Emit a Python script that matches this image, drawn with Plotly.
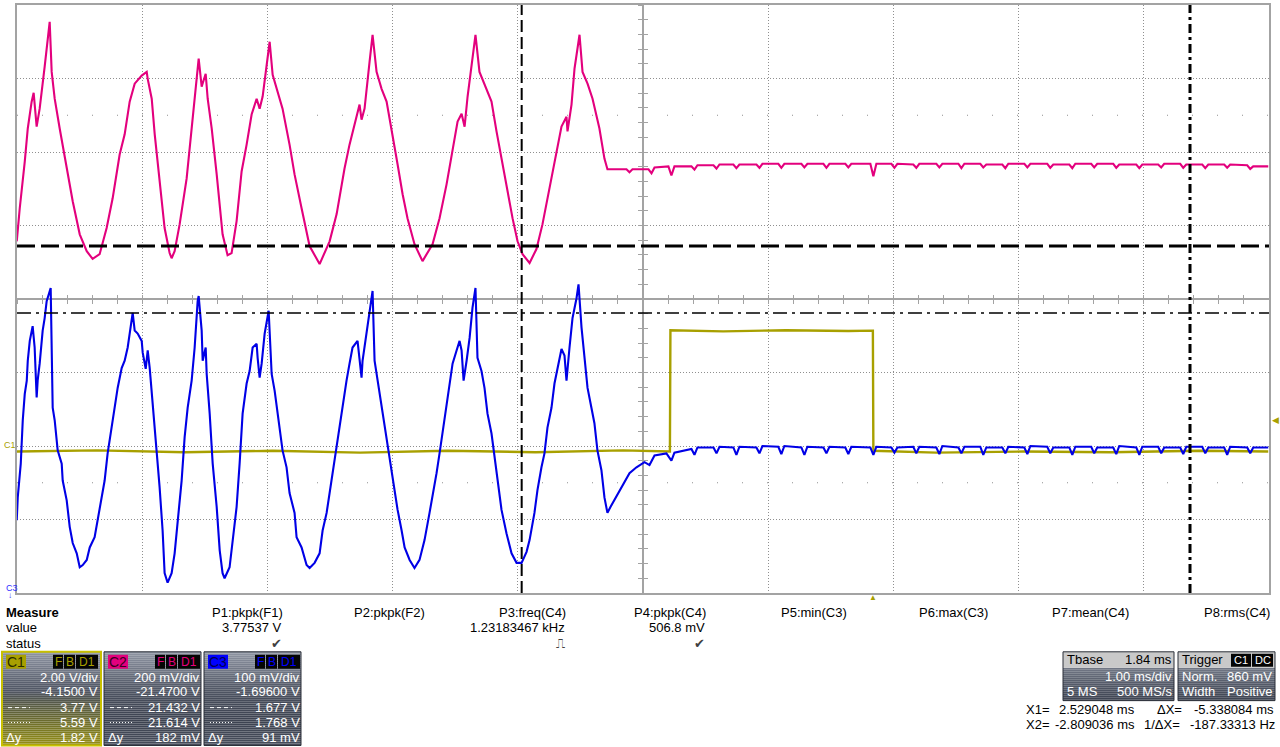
import plotly.graph_objects as go

FIG_WIDTH, FIG_HEIGHT = 1280, 747
# graticule edges on the page, in pixels
SCR_LEFT, SCR_RIGHT, SCR_TOP, SCR_BOTTOM = 17, 1269, 3, 593

FONT = "Liberation Sans, Arial, sans-serif"
GRID = "#8f8f8f"
FRAME = "#a3a3a3"

C1_COLOR = "#a8a000"
C2_COLOR = "#e3007d"
C3_COLOR = "#0000e6"

# scope settings, as printed in the info boxes
MS_PER_DIV = 1.00
TBASE_MS = 1.84
C1_VDIV, C1_OFFSET = 2.00, -4.15
C2_VDIV, C2_OFFSET = 0.200, -21.47
C3_VDIV, C3_OFFSET = 0.100, -1.696
TRIG_LEVEL = 0.86
X1_MS, X2_MS = 2.529048, -2.809036
Y1_C1, Y2_C1 = 3.77, 5.59

# C1 (yellow): gate signal, V vs ms
c1_t = [-6.842, -6.2, -5.5, -4.8, -4.1, -3.4, -2.7, -2.0, -1.625, -1.621,
        -1.2, -0.7, -0.2, -0.004, 0.0, 0.5, 1.2, 1.9, 2.6, 3.154]
c1_v = [0.00, 0.03, -0.02, 0.02, -0.03, 0.02, -0.02, 0.03, 0.00, 3.30,
        3.27, 3.30, 3.28, 3.29, 0.02, -0.03, 0.00, -0.02, 0.02, 0.00]

# C2 (magenta), V vs ms
c2_t = [
    -6.842, -6.818, -6.778, -6.754, -6.723, -6.707, -6.683, -6.659, -6.619, -6.579,
    -6.563, -6.539, -6.499, -6.443, -6.395, -6.339, -6.283, -6.236, -6.180, -6.124,
    -6.076, -6.020, -5.980, -5.940, -5.900, -5.844, -5.804, -5.796, -5.764, -5.740,
    -5.701, -5.661, -5.621, -5.605, -5.581, -5.541, -5.485, -5.445, -5.421, -5.389,
    -5.365, -5.333, -5.317, -5.285, -5.245, -5.198, -5.158, -5.126, -5.086, -5.046,
    -5.006, -4.966, -4.926, -4.902, -4.878, -4.846, -4.822, -4.798, -4.758, -4.719,
    -4.663, -4.623, -4.567, -4.503, -4.423, -4.343, -4.287, -4.224, -4.184, -4.144,
    -4.104, -4.088, -4.064, -4.024, -4.000, -3.968, -3.928, -3.888, -3.840, -3.800,
    -3.760, -3.721, -3.665, -3.601, -3.521, -3.465, -3.409, -3.361, -3.321, -3.289,
    -3.265, -3.241, -3.210, -3.178, -3.146, -3.090, -3.050, -3.010, -2.970, -2.930,
    -2.882, -2.842, -2.802, -2.746, -2.691, -2.643, -2.587, -2.531, -2.491, -2.451,
    -2.443, -2.411, -2.387, -2.347, -2.323, -2.283, -2.243, -2.188, -2.148, -2.124,
    -1.972, -1.948, -1.924, -1.796, -1.772, -1.748, -1.637, -1.613, -1.589,
    -1.453, -1.429, -1.405, -1.277, -1.253, -1.229, -1.118, -1.094, -1.070,
    -0.934, -0.910, -0.886, -0.759, -0.735, -0.711, -0.575, -0.551, -0.527,
    -0.399, -0.375, -0.351, -0.224, -0.200, -0.176, -0.024, 0.000, 0.024,
    0.144, 0.168, 0.192, 0.319, 0.343, 0.367, 0.503, 0.527, 0.551,
    0.679, 0.703, 0.727, 0.854, 0.878, 0.902, 1.030, 1.054, 1.078,
    1.206, 1.230, 1.254, 1.389, 1.413, 1.437, 1.565, 1.589, 1.613,
    1.740, 1.764, 1.788, 1.916, 1.940, 1.964, 2.100, 2.124, 2.148,
    2.275, 2.299, 2.323, 2.451, 2.475, 2.499, 2.627, 2.651, 2.675,
    2.802, 2.826, 2.850, 2.986, 3.010, 3.034, 3.154,
]
c2_v = [
    21.627, 21.717, 21.844, 21.934, 22.007, 22.031, 21.939, 21.988, 22.102, 22.224,
    22.088, 22.015, 21.934, 21.825, 21.736, 21.646, 21.600, 21.579, 21.592, 21.663,
    21.744, 21.863, 21.918, 22.007, 22.056, 22.078, 22.088, 22.069, 22.015, 21.918,
    21.790, 21.663, 21.595, 21.581, 21.600, 21.673, 21.798, 21.934, 22.034, 22.124,
    22.048, 22.083, 22.015, 21.934, 21.809, 21.646, 21.589, 21.595, 21.682, 21.817,
    21.890, 21.972, 22.015, 21.988, 22.021, 22.115, 22.170, 22.080, 22.034, 21.988,
    21.890, 21.809, 21.717, 21.614, 21.565, 21.627, 21.701, 21.825, 21.890, 21.945,
    21.999, 21.958, 21.988, 22.115, 22.189, 22.088, 22.042, 22.007, 21.918, 21.836,
    21.755, 21.690, 21.619, 21.573, 21.619, 21.690, 21.782, 21.880, 21.953, 21.974,
    21.939, 22.021, 22.097, 22.189, 22.088, 22.040, 22.007, 21.926, 21.852, 21.771,
    21.690, 21.627, 21.592, 21.568, 21.606, 21.673, 21.771, 21.871, 21.939, 21.966,
    21.926, 21.999, 22.097, 22.189, 22.088, 22.056, 22.015, 21.934, 21.852, 21.823,
    21.823, 21.815, 21.823, 21.823, 21.812, 21.828, 21.831, 21.806, 21.831,
    21.831, 21.822, 21.834, 21.834, 21.825, 21.836, 21.836, 21.826, 21.836,
    21.836, 21.827, 21.838, 21.838, 21.827, 21.838, 21.838, 21.828, 21.838,
    21.838, 21.827, 21.838, 21.838, 21.828, 21.838, 21.838, 21.804, 21.838,
    21.838, 21.827, 21.838, 21.836, 21.827, 21.838, 21.838, 21.828, 21.838,
    21.838, 21.826, 21.838, 21.838, 21.828, 21.836, 21.836, 21.826, 21.838,
    21.838, 21.828, 21.838, 21.838, 21.827, 21.836, 21.836, 21.826, 21.838,
    21.838, 21.828, 21.838, 21.838, 21.827, 21.836, 21.836, 21.826, 21.836,
    21.836, 21.828, 21.838, 21.838, 21.827, 21.836, 21.836, 21.826, 21.836,
    21.836, 21.827, 21.836, 21.834, 21.824, 21.831, 21.831,
]

# C3 (blue), V vs ms
c3_t = [
    -6.842, -6.834, -6.810, -6.802, -6.794, -6.778, -6.762, -6.754, -6.738, -6.715,
    -6.699, -6.683, -6.675, -6.659, -6.635, -6.619, -6.603, -6.571, -6.563, -6.555,
    -6.539, -6.515, -6.483, -6.475, -6.443, -6.419, -6.395, -6.363, -6.339, -6.315,
    -6.283, -6.259, -6.220, -6.196, -6.164, -6.140, -6.116, -6.084, -6.060, -6.036,
    -6.004, -5.980, -5.956, -5.916, -5.900, -5.876, -5.844, -5.836, -5.812, -5.796,
    -5.780, -5.764, -5.748, -5.724, -5.701, -5.677, -5.661, -5.637, -5.605, -5.581,
    -5.557, -5.525, -5.501, -5.477, -5.445, -5.421, -5.397, -5.389, -5.365, -5.357,
    -5.333, -5.325, -5.301, -5.277, -5.245, -5.221, -5.198, -5.182, -5.142, -5.118,
    -5.086, -5.062, -5.038, -5.006, -4.982, -4.958, -4.926, -4.918, -4.902, -4.886,
    -4.862, -4.830, -4.806, -4.782, -4.758, -4.719, -4.687, -4.663, -4.623, -4.607,
    -4.567, -4.527, -4.503, -4.463, -4.423, -4.399, -4.367, -4.343, -4.319, -4.287,
    -4.263, -4.239, -4.208, -4.184, -4.160, -4.120, -4.104, -4.088, -4.080, -4.048,
    -4.024, -4.000, -3.984, -3.960, -3.928, -3.904, -3.880, -3.848, -3.824, -3.800,
    -3.768, -3.744, -3.704, -3.665, -3.625, -3.585, -3.545, -3.521, -3.489, -3.465,
    -3.441, -3.409, -3.385, -3.361, -3.329, -3.305, -3.289, -3.273, -3.249, -3.225,
    -3.202, -3.178, -3.162, -3.130, -3.106, -3.082, -3.050, -3.026, -3.002, -2.970,
    -2.930, -2.890, -2.850, -2.810, -2.770, -2.746, -2.707, -2.683, -2.651, -2.627,
    -2.603, -2.571, -2.547, -2.523, -2.491, -2.467, -2.451, -2.427, -2.403, -2.371,
    -2.355, -2.331, -2.307, -2.283, -2.252, -2.228, -2.204, -2.172, -2.148, -2.124,
    -2.100, -2.060, -2.020, -1.948, -1.892, -1.828, -1.788, -1.748, -1.653, -1.613,
    -1.589,
    -1.453, -1.429, -1.405, -1.277, -1.253, -1.229, -1.118, -1.094, -1.070,
    -0.934, -0.910, -0.886, -0.759, -0.735, -0.711, -0.575, -0.551, -0.527,
    -0.399, -0.375, -0.351, -0.224, -0.200, -0.176, -0.024, 0.000, 0.024,
    0.144, 0.168, 0.192, 0.319, 0.343, 0.367, 0.503, 0.527, 0.551,
    0.679, 0.703, 0.727, 0.854, 0.878, 0.902, 1.030, 1.054, 1.078,
    1.206, 1.230, 1.254, 1.389, 1.413, 1.437, 1.565, 1.589, 1.613,
    1.740, 1.764, 1.788, 1.916, 1.940, 1.964, 2.100, 2.124, 2.148,
    2.275, 2.299, 2.323, 2.451, 2.475, 2.499, 2.627, 2.651, 2.675,
    2.802, 2.826, 2.850, 2.986, 3.010, 3.034, 3.154,
]
c3_v = [
    1.395, 1.426, 1.472, 1.508, 1.531, 1.567, 1.585, 1.612, 1.639, 1.659,
    1.630, 1.562, 1.585, 1.608, 1.653, 1.670, 1.693, 1.711, 1.581, 1.548,
    1.531, 1.490, 1.472, 1.449, 1.422, 1.386, 1.364, 1.350, 1.331, 1.334,
    1.341, 1.358, 1.372, 1.395, 1.422, 1.449, 1.486, 1.521, 1.544, 1.575,
    1.602, 1.612, 1.630, 1.677, 1.653, 1.649, 1.639, 1.623, 1.601, 1.626,
    1.602, 1.571, 1.531, 1.486, 1.440, 1.381, 1.323, 1.310, 1.323, 1.350,
    1.395, 1.449, 1.508, 1.548, 1.585, 1.630, 1.693, 1.700, 1.653, 1.612,
    1.630, 1.594, 1.540, 1.472, 1.413, 1.354, 1.323, 1.316, 1.331, 1.368,
    1.413, 1.472, 1.540, 1.581, 1.598, 1.630, 1.635, 1.616, 1.589, 1.608,
    1.649, 1.680, 1.594, 1.571, 1.540, 1.490, 1.467, 1.432, 1.405, 1.372,
    1.358, 1.334, 1.330, 1.337, 1.350, 1.381, 1.405, 1.432, 1.463, 1.494,
    1.521, 1.548, 1.585, 1.608, 1.630, 1.639, 1.612, 1.589, 1.612, 1.649,
    1.680, 1.707, 1.612, 1.585, 1.548, 1.527, 1.494, 1.463, 1.436, 1.409,
    1.381, 1.358, 1.341, 1.330, 1.341, 1.368, 1.405, 1.426, 1.459, 1.486,
    1.513, 1.554, 1.581, 1.608, 1.626, 1.639, 1.626, 1.585, 1.612, 1.643,
    1.684, 1.711, 1.616, 1.598, 1.575, 1.540, 1.513, 1.480, 1.445, 1.409,
    1.377, 1.350, 1.337, 1.337, 1.352, 1.368, 1.405, 1.436, 1.467, 1.486,
    1.521, 1.548, 1.581, 1.602, 1.628, 1.619, 1.585, 1.630, 1.670, 1.697,
    1.716, 1.657, 1.612, 1.575, 1.548, 1.527, 1.490, 1.463, 1.426, 1.405,
    1.413, 1.425, 1.436, 1.459, 1.467, 1.474, 1.470, 1.483, 1.486, 1.476,
    1.487,
    1.492, 1.484, 1.494, 1.494, 1.486, 1.495, 1.494, 1.484, 1.495,
    1.494, 1.486, 1.496, 1.495, 1.485, 1.496, 1.494, 1.484, 1.495,
    1.494, 1.486, 1.495, 1.494, 1.485, 1.495, 1.494, 1.484, 1.495,
    1.494, 1.487, 1.494, 1.495, 1.486, 1.495, 1.494, 1.485, 1.496,
    1.494, 1.486, 1.495, 1.495, 1.484, 1.494, 1.494, 1.486, 1.495,
    1.494, 1.485, 1.496, 1.495, 1.486, 1.494, 1.494, 1.484, 1.495,
    1.495, 1.486, 1.494, 1.494, 1.485, 1.496, 1.494, 1.484, 1.495,
    1.495, 1.486, 1.494, 1.494, 1.485, 1.495, 1.495, 1.486, 1.494,
    1.494, 1.484, 1.495, 1.494, 1.486, 1.494, 1.494,
]

# measurement strip
MEAS_NAMES = ["P1:pkpk(F1)", "P2:pkpk(F2)", "P3:freq(C4)", "P4:pkpk(C4)",
              "P5:min(C3)", "P6:max(C3)", "P7:mean(C4)", "P8:rms(C4)"]
MEAS_VALUES = ["3.77537 V", "", "1.23183467 kHz", "506.8 mV", "", "", "", ""]
MEAS_STATUS = ["\u2714", "", "\u238d", "\u2714", "", "", "", ""]
MEAS_RIGHT = [284, 426, 567, 707, 848, 989, 1130, 1271]

# channel descriptor boxes: vdiv, offset, cursor 1, cursor 2, delta
CH_NAMES = ["C1", "C2", "C3"]
CH_COLORS = [C1_COLOR, C2_COLOR, "#0000ff"]
CH_BADGE_TEXT = ["#2a2a00", "#3a0020", "#000050"]
CH_ROWS = [
    ["2.00 V/div", "-4.1500 V", "3.77 V", "5.59 V", "1.82 V"],
    ["200 mV/div", "-21.4700 V", "21.432 V", "21.614 V", "182 mV"],
    ["100 mV/div", "-1.69600 V", "1.677 V", "1.768 V", "91 mV"],
]
CH_BOX_X = [(2, 101), (104, 201), (204, 301)]


def ch_range(vdiv, offset):
    center = -offset
    return [center - 4 * vdiv, center + 4 * vdiv]


def paper_x(px):
    return (px - SCR_LEFT) / (SCR_RIGHT - SCR_LEFT)


def paper_y(py):
    return (SCR_BOTTOM - py) / (SCR_BOTTOM - SCR_TOP)


def rgb(h):
    return tuple(int(h[i:i + 2], 16) for i in (1, 3, 5))


def mix(a, b, f):
    return tuple(a[i] + (b[i] - a[i]) * f for i in range(3))


def css(c):
    return "rgb(%d,%d,%d)" % tuple(round(v) for v in c)


BOX_SHADE = [(652, "#9096a3"), (668, "#767c8a"), (684, "#595f6d"),
             (700, "#464c5a"), (722, "#3d4351"), (746, "#474d5b")]


def shade_at(y):
    for (ya, ca), (yb, cb) in zip(BOX_SHADE, BOX_SHADE[1:]):
        if y <= yb:
            return mix(rgb(ca), rgb(cb), (y - ya) / (yb - ya))
    return rgb(BOX_SHADE[-1][1])


shapes = []
annotations = []


def rect(x0, y0, x1, y1, fill=None, line=None, width=0, layer="above"):
    shapes.append(dict(
        type="rect", xref="paper", yref="paper", layer=layer,
        x0=paper_x(x0), x1=paper_x(x1), y0=paper_y(y1), y1=paper_y(y0),
        fillcolor=fill or "rgba(0,0,0,0)",
        line=dict(color=line or "rgba(0,0,0,0)", width=width),
    ))


def hline(x0, x1, y, color, dash, width=1):
    shapes.append(dict(
        type="line", xref="paper", yref="paper",
        x0=paper_x(x0), x1=paper_x(x1), y0=paper_y(y), y1=paper_y(y),
        line=dict(color=color, width=width, dash=dash),
    ))


def text(x, y, s, anchor="left", size=13, color="#000000", bold=False):
    if bold:
        s = "<b>%s</b>" % s
    annotations.append(dict(
        xref="paper", yref="paper", x=paper_x(x), y=paper_y(y), text=s,
        xanchor=anchor, yanchor="middle", showarrow=False, borderpad=0,
        font=dict(family=FONT, size=size, color=color),
    ))


def gradient(x0, x1, y0, y1, glow=None):
    for y in range(y0, y1, 2):
        c = shade_at(y + 1)
        if glow:
            f = max(0.0, (y - 690) / 56.0) * 0.8
            c = mix(c, rgb(glow), f)
        rect(x0, y, x1, min(y + 2, y1), fill=css(c))


fig = go.Figure()

fig.add_trace(go.Scatter(x=c1_t, y=c1_v, mode="lines", yaxis="y",
                         line=dict(color=C1_COLOR, width=2.4), hoverinfo="skip"))
fig.add_trace(go.Scatter(x=c2_t, y=c2_v, mode="lines", yaxis="y2",
                         line=dict(color=C2_COLOR, width=2.1), hoverinfo="skip"))
fig.add_trace(go.Scatter(x=c3_t, y=c3_v, mode="lines", yaxis="y3",
                         line=dict(color=C3_COLOR, width=2.1), hoverinfo="skip"))
# empty traces so the centre-cross tick axes get drawn
for xa, ya in [("x2", "y"), ("x3", "y"), ("x", "y4"), ("x", "y5")]:
    fig.add_trace(go.Scatter(x=[], y=[], xaxis=xa, yaxis=ya, showlegend=False))

t_range = [-TBASE_MS - 5 * MS_PER_DIV, -TBASE_MS + 5 * MS_PER_DIV]
c1_range = ch_range(C1_VDIV, C1_OFFSET)

frame_axis = dict(
    showticklabels=False, ticks="", zeroline=False, fixedrange=True,
    showgrid=True, gridcolor=GRID, griddash="1px,2px", gridwidth=1,
    showline=True, linecolor=FRAME, linewidth=1.5, mirror=True,
    layer="below traces",
)
center_tick = dict(
    showticklabels=False, showgrid=False, zeroline=False, fixedrange=True,
    anchor="free", position=0.5, ticklen=4, tickwidth=1, tickcolor=FRAME,
    linecolor=FRAME, linewidth=1.5, layer="below traces",
)

# minor dot rows of the graticule
for k in (-2.5, 2.5):
    shapes.append(dict(
        type="line", xref="x", yref="y", layer="below",
        x0=t_range[0], x1=t_range[1],
        y0=-C1_OFFSET + k * C1_VDIV, y1=-C1_OFFSET + k * C1_VDIV,
        line=dict(color=GRID, width=1, dash="1px,24px"),
    ))

# cursors
shapes += [
    dict(type="line", xref="x", yref="paper", x0=X2_MS, x1=X2_MS, y0=0, y1=1,
         line=dict(color="#000000", width=2, dash="12px,5px")),
    dict(type="line", xref="x", yref="paper", x0=X1_MS, x1=X1_MS, y0=0, y1=1,
         line=dict(color="#000000", width=3, dash="9px,4px,3px,4px")),
    dict(type="line", xref="paper", yref="y", x0=0, x1=1, y0=Y2_C1, y1=Y2_C1,
         line=dict(color="#000000", width=3, dash="18px,6px")),
    dict(type="line", xref="paper", yref="y", x0=0, x1=1, y0=Y1_C1, y1=Y1_C1,
         line=dict(color="#000000", width=1.5, dash="14px,5px,3px,5px")),
]

# ground / trigger markers
annotations += [
    dict(xref="paper", yref="y", x=paper_x(2), y=0, text="C1", showarrow=False,
         xanchor="left", yanchor="bottom", font=dict(family=FONT, size=9, color=C1_COLOR)),
    dict(xref="paper", yref="paper", x=paper_x(4), y=paper_y(588), text="C3",
         showarrow=False, xanchor="left", yanchor="middle",
         font=dict(family=FONT, size=9, color="#3030ff")),
    dict(xref="paper", yref="paper", x=paper_x(6), y=paper_y(596), text="\u2193",
         showarrow=False, xanchor="left", yanchor="middle",
         font=dict(family=FONT, size=8, color="#3030ff")),
    dict(xref="paper", yref="y", x=paper_x(1270), y=TRIG_LEVEL, text="\u25c0",
         showarrow=False, xanchor="left", yanchor="middle",
         font=dict(family=FONT, size=9, color=C1_COLOR)),
    dict(xref="x", yref="paper", x=0.0, y=paper_y(598), text="\u25b2",
         showarrow=False, xanchor="center", yanchor="middle",
         font=dict(family=FONT, size=8, color=C1_COLOR)),
]

# measurement strip
text(5, 613, "Measure", bold=True)
text(5, 628, "value")
text(5, 644, "status")
for name, val, status, right in zip(MEAS_NAMES, MEAS_VALUES, MEAS_STATUS, MEAS_RIGHT):
    text(right, 613, name, anchor="right")
    if val:
        text(right - 1, 628, val, anchor="right")
    if status:
        text(right - 1, 644, status, anchor="right", color="#404040")

# channel boxes
for i, (name, color) in enumerate(zip(CH_NAMES, CH_COLORS)):
    x0, x1 = CH_BOX_X[i]
    gradient(x0, x1, 652, 746, glow=C1_COLOR if i == 0 else None)
    rect(x0, 652, x1, 746, line="#c8c000" if i == 0 else "#2b2f38",
         width=2 if i == 0 else 1)
    rect(x0 + 4, 655, x0 + 24, 669, fill=color)
    text(x0 + 14, 662, name, anchor="center", size=14, color=CH_BADGE_TEXT[i])
    for lbl, a, b in (("F", 51, 61), ("B", 62, 73), ("D1", 74, 96)):
        rect(x0 + a, 655, x0 + b, 669, fill="#050505")
        text(x0 + (a + b) / 2, 662, lbl, anchor="center", size=12, color=color)
    vdiv, offs, cur1, cur2, delta = CH_ROWS[i]
    right = x0 + 97
    text(right, 678, vdiv, anchor="right", color="#ffffff")
    text(right, 692, offs, anchor="right", color="#ffffff")
    text(right, 708, cur1, anchor="right", color="#ffffff")
    text(right, 723, cur2, anchor="right", color="#ffffff")
    text(right, 738, delta, anchor="right", color="#ffffff")
    hline(x0 + 6, x0 + 28, 708, "#ffffff", "4px,3px")
    hline(x0 + 6, x0 + 28, 723, "#ffffff", "1px,2px")
    text(x0 + 3, 738, "\u0394y", color="#ffffff")

# timebase and trigger boxes
BOX_SHADE = [(668, "#727886"), (684, "#555b69"), (701, "#3d4351")]
for bx0, bx1 in ((1063, 1174), (1178, 1275)):
    gradient(bx0, bx1, 668, 701)
    rect(bx0, 652, bx1, 668, fill="#c9c9c9")
    rect(bx0, 652, bx1, 701, line="#2b2f38", width=1)

text(1066, 660, "Tbase")
text(1173, 660, "1.84 ms", anchor="right")
text(1173, 677, "1.00 ms/div", anchor="right", color="#ffffff")
text(1066, 692, "5 MS", color="#ffffff")
text(1173, 692, "500 MS/s", anchor="right", color="#ffffff")

text(1181, 660, "Trigger")
for lbl, a, b in (("C1", 1231, 1251), ("DC", 1252, 1273)):
    rect(a, 654, b, 667, fill="#050505")
    text((a + b) / 2, 660.5, lbl, anchor="center", size=11, color="#ffffff")
text(1181, 677, "Norm.", color="#ffffff")
text(1273, 677, "860 mV", anchor="right", color="#ffffff")
text(1181, 692, "Width", color="#ffffff")
text(1274, 692, "Positive", anchor="right", color="#ffffff")

text(1025, 710, "X1=")
text(1136, 710, "2.529048 ms", anchor="right")
text(1156, 710, "\u0394X=")
text(1275, 710, "-5.338084 ms", anchor="right")
text(1025, 725, "X2=")
text(1136, 725, "-2.809036 ms", anchor="right")
text(1181, 725, "1/\u0394X=", anchor="right")
text(1276, 725, "-187.33313 Hz", anchor="right")

fig.update_layout(
    width=FIG_WIDTH,
    height=FIG_HEIGHT,
    margin=dict(l=SCR_LEFT, r=FIG_WIDTH - SCR_RIGHT, t=SCR_TOP, b=FIG_HEIGHT - SCR_BOTTOM),
    paper_bgcolor="#ffffff",
    plot_bgcolor="#ffffff",
    showlegend=False,
    hovermode=False,
    xaxis=dict(frame_axis, range=t_range, tick0=t_range[0], dtick=MS_PER_DIV),
    yaxis=dict(frame_axis, range=c1_range, tick0=c1_range[0], dtick=C1_VDIV),
    yaxis2=dict(range=ch_range(C2_VDIV, C2_OFFSET), overlaying="y", visible=False, fixedrange=True),
    yaxis3=dict(range=ch_range(C3_VDIV, C3_OFFSET), overlaying="y", visible=False, fixedrange=True),
    xaxis2=dict(center_tick, overlaying="x", range=t_range, tick0=t_range[0],
                dtick=MS_PER_DIV / 5, ticks="outside", showline=True),
    xaxis3=dict(center_tick, overlaying="x", range=t_range, tick0=t_range[0],
                dtick=MS_PER_DIV / 5, ticks="inside", showline=False),
    yaxis4=dict(center_tick, overlaying="y", range=c1_range, tick0=c1_range[0],
                dtick=C1_VDIV / 5, ticks="outside", showline=True),
    yaxis5=dict(center_tick, overlaying="y", range=c1_range, tick0=c1_range[0],
                dtick=C1_VDIV / 5, ticks="inside", showline=False),
    shapes=shapes,
    annotations=annotations,
)

# the page body has a default 8px margin; drop it so the figure sits at 0,0
fig.write_html(
    "out.html",
    config={"displayModeBar": False},
    post_script="document.body.style.margin='0';document.body.style.overflow='hidden';",
)
